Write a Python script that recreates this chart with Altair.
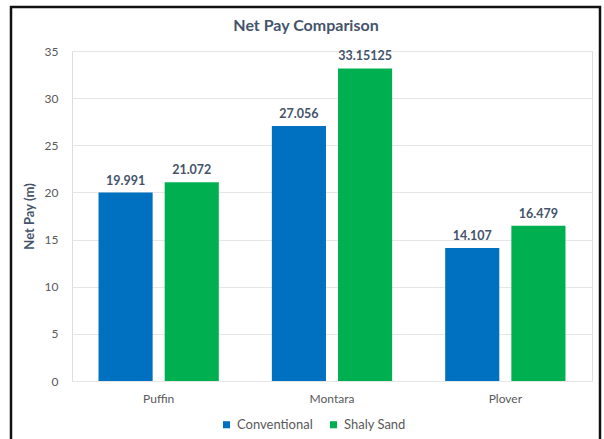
import altair as alt
import pandas as pd

# Net pay per well, two evaluation methods
wells = ["Puffin", "Montara", "Plover"]
conventional = [19.991, 27.056, 14.107]
shaly_sand = [21.072, 33.15125, 16.479]
methods = ["Conventional", "Shaly Sand"]
colors = ["#0070C0", "#00B050"]

rows = []
for i, w in enumerate(wells):
    rows.append({"Well": w, "Method": methods[0], "NetPay": conventional[i],
                 "Label": str(conventional[i])})
    rows.append({"Well": w, "Method": methods[1], "NetPay": shaly_sand[i],
                 "Label": str(shaly_sand[i])})
df = pd.DataFrame(rows)

FONT = "Lato"
TXT = "#595959"
DARK = "#44546A"

x_enc = alt.X("Well:N", sort=wells, title=None,
              scale=alt.Scale(paddingInner=0.306, paddingOuter=0.153),
              axis=alt.Axis(labelAngle=0, labelColor=TXT, labelFontSize=12,
                            labelFont=FONT, labelPadding=12, ticks=False,
                            domain=False, grid=False))
xo_enc = alt.XOffset("Method:N", sort=methods,
                     scale=alt.Scale(paddingInner=0.182, paddingOuter=0))
y_enc = alt.Y("NetPay:Q", title="Net Pay (m)",
              scale=alt.Scale(domain=[0, 35], nice=False),
              axis=alt.Axis(values=[0, 5, 10, 15, 20, 25, 30, 35], ticks=False,
                            domain=False, labelColor=TXT, labelFontSize=12,
                            labelFont=FONT, labelPadding=14,
                            titleColor=DARK, titleFont=FONT, titleFontSize=13,
                            titleFontWeight="bold", titlePadding=8,
                            gridColor="#E6E6E6", gridWidth=1))

base = alt.Chart(df)

bars = base.mark_bar().encode(
    x=x_enc,
    xOffset=xo_enc,
    y=y_enc,
    color=alt.Color("Method:N", sort=methods,
                    scale=alt.Scale(domain=methods, range=colors),
                    legend=alt.Legend(title=None, orient="none", direction="horizontal",
                                      legendX=148, legendY=367, symbolType="square",
                                      symbolSize=50, symbolStrokeWidth=0,
                                      labelFont=FONT, labelFontSize=13,
                                      labelColor=TXT, columnPadding=14,
                                      labelOffset=4)),
)

labels = base.mark_text(baseline="bottom", dy=-5, font=FONT, fontSize=12.5,
                        fontWeight="bold", color=DARK).encode(
    x=alt.X("Well:N", sort=wells),
    xOffset=alt.XOffset("Method:N", sort=methods),
    y="NetPay:Q",
    text="Label:N",
)

single = alt.Chart(pd.DataFrame({"k": [0]}))

# chart heading, centred over the framed area
heading = single.mark_text(font=FONT, fontSize=16, fontWeight="bold", color=DARK,
                           baseline="middle", align="center").encode(
    x=alt.value(234), y=alt.value(-25), text=alt.value("Net Pay Comparison"))

# outer frame around the whole chart
frame = single.mark_rect(
    fill=None, stroke="#111111", strokeWidth=2.5
).encode(x=alt.value(-61), x2=alt.value(528), y=alt.value(-44), y2=alt.value(400))

chart = alt.layer(bars, labels, heading, frame).properties(
    width=520, height=330,
    padding={"left": 72, "top": 51, "right": 12, "bottom": 58},
    autosize=alt.AutoSizeParams(type="none"),
).configure_view(stroke=None).configure(background="white")

chart.save("out.html", embed_options={"renderer": "svg", "actions": False})
